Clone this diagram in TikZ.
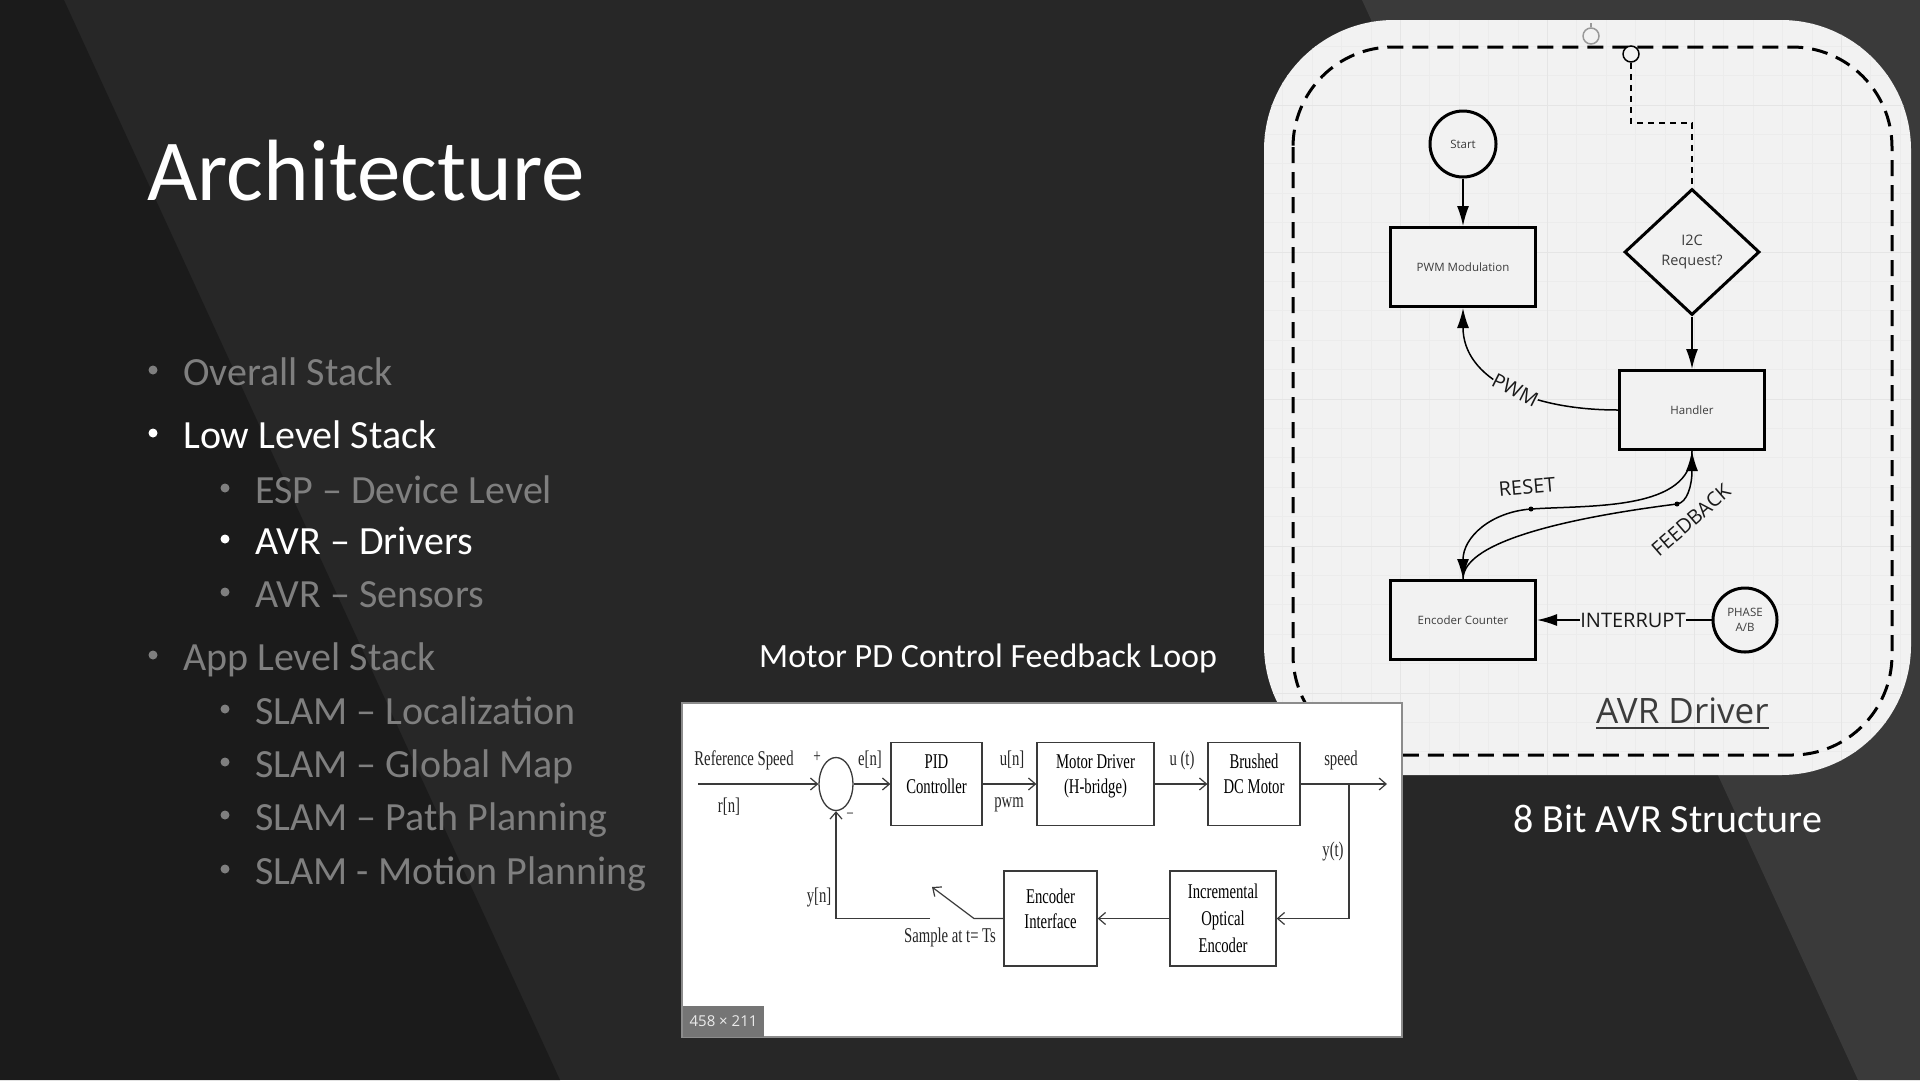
\documentclass[tikz,border=0pt]{standalone}
\usepackage{fontspec}
\setmainfont{Carlito}
\newfontfamily\avrfont{Open Sans}
\newfontfamily\loopfont[FakeStretch=0.7]{Liberation Serif}
\usetikzlibrary{arrows.meta,positioning,shapes.geometric}

\definecolor{bgleft}{HTML}{1B1B1B}
\definecolor{bgmid}{HTML}{272727}
\definecolor{bgright}{HTML}{3A3A3A}
\definecolor{dimtext}{HTML}{7F7F7F}
\definecolor{panelbg}{HTML}{F2F2F2}
\definecolor{gridminor}{HTML}{ECECEC}
\definecolor{gridmajor}{HTML}{E5E5E5}
\definecolor{avrtext}{HTML}{3C3C3C}
\definecolor{loopline}{HTML}{3A3A3A}
\definecolor{tagbg}{HTML}{757575}

\tikzset{
  bullettext/.style={anchor=base west, inner sep=0pt, font=\fontsize{40}{48}\selectfont},
  flowbox/.style={draw, line width=3pt, fill=panelbg, minimum width=145pt, minimum height=79pt,
    inner sep=0pt, text=avrtext, align=center, font=\avrfont\fontsize{11.5}{15}\selectfont},
  flowcirc/.style={flowbox, circle, minimum width=66pt, minimum height=66pt},
  flowarrow/.style={line width=1.5pt, -{Latex[length=20pt,width=12pt]}},
  flowlabel/.style={inner sep=0pt, text=black!90, font=\avrfont\fontsize{20}{24}\selectfont},
  loopbox/.style={draw=loopline, line width=1.3pt, inner sep=0pt, align=center,
    font=\loopfont\fontsize{21}{25}\selectfont},
  looplabel/.style={inner sep=0pt, text=black!85, font=\loopfont\fontsize{21}{26}\selectfont},
  looparrow/.style={draw=loopline, line width=1.2pt, -{Straight Barb[length=7pt,width=12pt]}}
}

\begin{document}
\begin{tikzpicture}[x=1pt,y=-1pt]
\useasboundingbox (0,0) rectangle (1920,1080);

% slide background
\fill[bgmid] (0,0) rectangle (1920,1080);
\fill[bgleft] (0,0) -- (64,0) -- (560,1080) -- (0,1080) -- cycle;
\fill[bgright] (1362,0) -- (1920,0) -- (1920,1080) -- (1858,1080) -- cycle;

% title and bullets
\node[anchor=base west, inner sep=0pt, text=white, font=\fontsize{87}{100}\selectfont] (title) at (147,200) {Architecture};
\foreach \y/\lv/\col/\txt [count=\i] in {385/0/dimtext/Overall Stack, 448/0/white/Low Level Stack,
    503/1/dimtext/ESP – Device Level, 554/1/white/AVR – Drivers, 607/1/dimtext/AVR – Sensors,
    670/0/dimtext/App Level Stack, 724/1/dimtext/SLAM – Localization, 777/1/dimtext/SLAM – Global Map,
    830/1/dimtext/SLAM – Path Planning, 884/1/dimtext/SLAM - Motion Planning}
{
  \fill[\col] (153+72*\lv,\y-15) circle (4.5);
  \node[bullettext, text=\col] (item\i) at (183+72*\lv,\y) {\txt};
}

% AVR driver panel
\fill[panelbg, rounded corners=130pt] (1264,20) rectangle (1911,775);
\begin{scope}
  \clip[rounded corners=130pt] (1264,20) rectangle (1911,775);
  \foreach \i in {0,...,23}
    \draw[gridminor, line width=1pt] (1253.5+29.4*\i,20) -- (1253.5+29.4*\i,775);
  \foreach \i in {0,...,26}
    \draw[gridminor, line width=1pt] (1264,16.8+29.4*\i) -- (1911,16.8+29.4*\i);
  \foreach \x in {1400.5,1547.5,1694.5,1841.5}
    \draw[gridmajor, line width=1pt] (\x,20) -- (\x,775);
  \foreach \y in {105,252,399,546,693}
    \draw[gridmajor, line width=1pt] (1264,\y) -- (1911,\y);
\end{scope}
\draw[line width=3pt, dash pattern=on 16pt off 9pt, rounded corners=100pt] (1293,47) rectangle (1892,755);

% ports on the border
\node[circle, draw=black!40, line width=1.5pt, fill=panelbg, minimum size=16pt, inner sep=0pt] (port1) at (1591,36) {};
\coordinate (port1top) at (1591,23);
\draw[black!40, line width=1.5pt] (port1.north) -- (port1top);
\node[circle, draw, line width=1.5pt, fill=panelbg, minimum size=16pt, inner sep=0pt] (port2) at (1631,54) {};

% flow chart
\node[flowcirc] (start) at (1463,144) {Start};
\node[flowbox] (pwm) at (1463,267) {PWM Modulation};
\node[flowbox, diamond, minimum width=135pt, minimum height=126pt,
  font=\avrfont\fontsize{14.5}{20}\selectfont] (i2c) at (1692,252) {I2C\\Request?};
\node[flowbox] (handler) at (1692,410) {Handler};
\node[flowbox] (encoder) at (1463,620) {Encoder Counter};
\node[flowcirc, minimum width=64pt, minimum height=64pt, font=\avrfont\fontsize{11.5}{15}\selectfont] (phase) at (1745,620) {PHASE\\A/B};

\draw[line width=2pt, dash pattern=on 6pt off 5pt] (port2.south) -- ++(0,60) -| (i2c.north);
\draw[flowarrow] (start) -- (pwm);
\draw[flowarrow] (i2c) -- (handler);
\draw[flowarrow] (handler.west) .. controls +(-90,0) and +(0,70) ..
  node[pos=.45, sloped, fill=panelbg, inner sep=4pt, flowlabel] {PWM} (pwm.south);

\coordinate (rdot) at (1531,509);
\coordinate (fdot) at (1677,504);
\draw[flowarrow] (handler.south) .. controls +(0,60) and +(60,-4) .. (rdot)
  .. controls +(-40,3) and +(0,-42) .. (encoder.north);
\draw[flowarrow] (encoder.north) .. controls +(0,-40) and +(-95,12) .. (fdot)
  .. controls +(10,-1.3) and +(0,35) .. (handler.south);
\fill (rdot) circle (2.5);
\fill (fdot) circle (2.5);
\node[flowlabel, rotate=5] (resetlbl) at (1527,487) {RESET};
\node[flowlabel, rotate=41] (feedbacklbl) at (1691,520) {FEEDBACK};

\draw[flowarrow] (phase) -- node[pos=.45, fill=panelbg, inner sep=5pt, flowlabel] {INTERRUPT} (encoder);

\node[anchor=base west, inner sep=0pt, text=avrtext, font=\avrfont\fontsize{35}{40}\selectfont] (avrname) at (1596,723) {AVR Driver};
\draw[avrtext, line width=2pt] ([yshift=-5pt]avrname.base west) -- ([yshift=-5pt]avrname.base east);

% control loop picture
\fill[white, draw=black!45, line width=1.5pt] (682,703) rectangle (1402,1037);
\node[fill=tagbg, text=white!92!black, inner sep=0pt, minimum width=81pt, minimum height=31pt,
  font=\avrfont\fontsize{15}{18}\selectfont] (sizetag) at (723.5,1021.5) {458 × 211};

\node[ellipse, draw=loopline, line width=1.3pt, minimum width=34pt, minimum height=53pt, inner sep=0pt] (sum) at (836,784) {};
\node[loopbox, text depth=20pt, minimum width=91pt, minimum height=83pt] (pid) at (936.5,784) {PID\\Controller};
\node[loopbox, text depth=20pt, minimum width=117pt, minimum height=83pt] (drv) at (1095.5,784) {Motor Driver\\(H-bridge)};
\node[loopbox, text depth=20pt, minimum width=92pt, minimum height=83pt] (motor) at (1254,784) {Brushed\\DC Motor};
\node[loopbox, minimum width=106pt, minimum height=95pt, font=\loopfont\fontsize{21}{27}\selectfont] (incr) at (1223,918.5) {Incremental\\Optical\\Encoder};
\node[loopbox, text depth=20pt, minimum width=93pt, minimum height=95pt] (encif) at (1050.5,918.5) {Encoder\\Interface};

\coordinate (refin) at (698,784);
\coordinate (speedout) at (1387,784);
\coordinate (tap) at (1349,784);
\coordinate (swpivot) at (974,918.5);
\coordinate (swtip) at (932,887);
\coordinate (swout) at (930,918.5);

\draw[looparrow] (refin) -- (sum.west);
\draw[looparrow] (sum) -- (pid);
\draw[looparrow] (pid) -- (drv);
\draw[looparrow] (drv) -- (motor);
\draw[looparrow] (motor) -- (speedout);
\draw[looparrow] (tap) |- (incr.east);
\draw[looparrow] (incr) -- (encif);
\draw[looparrow] (encif.west) -- (swpivot) -- (swtip);
\draw[looparrow] (swout) -| (sum.south);

\node[looplabel] (refspeed) at (744,760) {Reference Speed};
\node[looplabel] (rn) at (729,807) {r[n]};
\node[looplabel, font=\loopfont\fontsize{19}{19}\selectfont] (plus) at (817,757) {+};
\node[looplabel, font=\loopfont\fontsize{17}{17}\selectfont] (minus) at (850,815) {–};
\node[looplabel] (en) at (870,760) {e[n]};
\node[looplabel] (un) at (1012,760) {u[n]};
\node[looplabel] (pwmsig) at (1009,805) {pwm};
\node[looplabel] (ut) at (1182,760) {u (t)};
\node[looplabel] (speed) at (1341,760) {speed};
\node[looplabel] (yt) at (1333,851) {y(t)};
\node[looplabel] (yn) at (819,897) {y[n]};
\node[looplabel] (sample) at (950,937) {Sample at t= Ts};

% captions
\node[anchor=base west, inner sep=0pt, text=white, font=\fontsize{34}{40}\selectfont] (loopcap) at (759,667) {Motor PD Control Feedback Loop};
\node[anchor=base west, inner sep=0pt, text=white, font=\fontsize{40}{48}\selectfont] (avrcap) at (1513,832) {8 Bit AVR Structure};
\end{tikzpicture}
\end{document}
